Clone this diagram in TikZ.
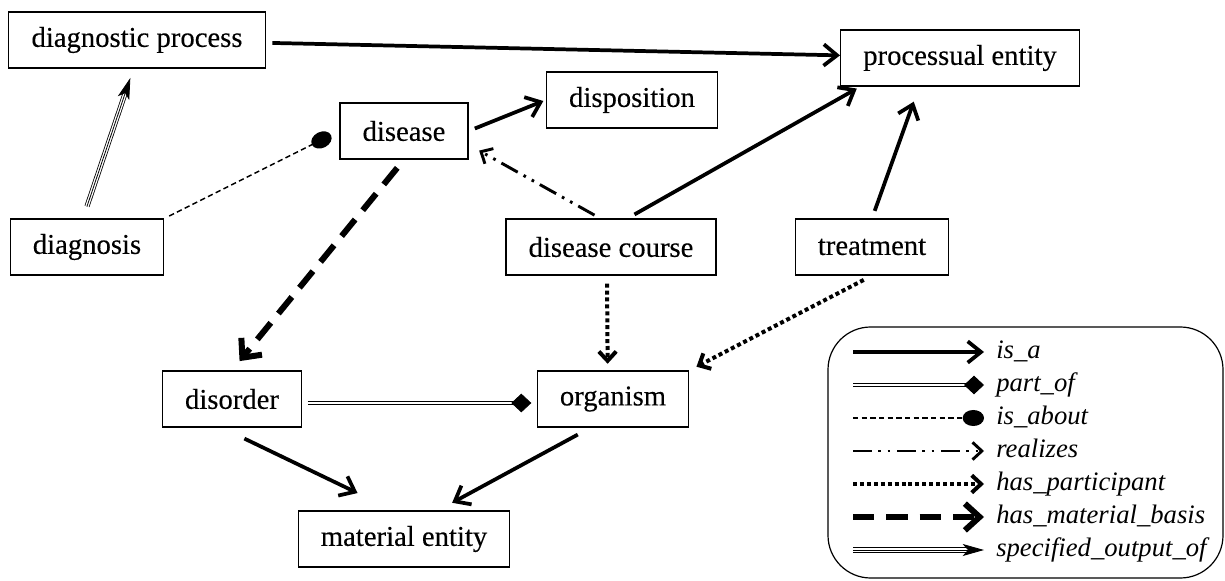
\documentclass[tikz,border=0pt]{standalone}
\usepackage{fontspec}
\setmainfont{Liberation Serif}
\newfontfamily\boxfamily[FakeBold=0.3]{Liberation Serif}
\usetikzlibrary{arrows.meta}
\newcommand\labfont{\boxfamily\fontsize{21.5}{24}\selectfont}
\newcommand\legfont{\itshape\fontsize{20}{24}\selectfont}
\tikzset{
  box/.style={draw, line width=0.9pt, inner xsep=17pt, minimum height=42pt, font=\labfont},
  legtext/.style={anchor=west, inner sep=0pt, text height=14pt, text depth=4pt, font=\legfont},
  isa/.style={line width=2.8pt, -{Straight Barb[length=10pt,width=16pt]}},
  partof/.style={white, line width=1.6pt, -{Diamond[length=15pt,width=14pt,color=black,fill=black,line width=0.6pt]},
    preaction={draw=black, -, double=white, double distance=1.6pt, line width=0.8pt, shorten >=8pt}},
  isabout/.style={line width=1.1pt, dash pattern=on 4pt off 2.5pt, -{Ellipse[length=16pt,width=12pt]}},
  realizes/.style={line width=2.2pt, dash pattern=on 14pt off 5pt on 2pt off 5pt on 2pt off 5pt,
    -{Straight Barb[length=7pt,width=13pt]}},
  haspart/.style={line width=3pt, dash pattern=on 3pt off 2.2pt, -{Straight Barb[length=7pt,width=13pt]}},
  matbasis/.style={line width=4.5pt, dash pattern=on 16pt off 9pt, -{Straight Barb[length=11pt,width=20pt]}},
  specout/.style={line width=0.6pt, -{Stealth[length=16pt,width=9pt,inset=4pt]},
    preaction={draw, -, double, double distance=2.6pt, shorten >=10pt}},
}
\begin{document}
\begin{tikzpicture}[x=0.75pt, y=-0.75pt]
    \useasboundingbox (0,0) rectangle (1225,581);

    % Classes
    \node[box] (dproc) at (137,40) {diagnostic process};
    \node[box] (pent) at (960,58) {processual entity};
    \node[box] (disease) at (404,131) {disease};
    \node[box] (dispo) at (632,100) {disposition};
    \node[box] (diagnosis) at (87,247) {diagnosis};
    \node[box] (dcourse) at (611,247) {disease course};
    \node[box] (treatment) at (872,247) {treatment};
    \node[box] (disorder) at (232,399) {disorder};
    \node[box] (organism) at (613,399) {organism};
    \node[box] (matent) at (404,539) {material entity};

    % Relations
    \draw[isa, shorten <=5pt] (dproc) -- (pent);
    \draw[specout] ([yshift=9pt]diagnosis.north) -- ([xshift=-5pt,yshift=-7pt]dproc.south);
    \draw[isabout, shorten <=4pt, shorten >=7pt] (diagnosis.north east) -- (disease.west);
    \draw[isa, shorten <=5pt, shorten >=2pt] (disease.east) -- (dispo.west);
    \draw[realizes, shorten <=5pt, shorten >=9pt] ([xshift=-8pt]dcourse.north) -- (disease.-12);
    \draw[isa, shorten <=6pt, shorten >=3pt] (dcourse.60) -- (pent.-164);
    \draw[isa, shorten <=6pt, shorten >=12pt] (treatment.north) -- (pent.-145);
    \draw[matbasis, shorten <=8pt, shorten >=9pt] (disease.south) -- (disorder.north);
    \draw[haspart, shorten <=6pt, shorten >=5pt] ([xshift=-3pt]dcourse.south) -- ([xshift=-4pt]organism.north);
    \draw[haspart, shorten <=7pt, shorten >=6pt] (treatment.south) -- (organism.north east);
    \draw[partof] ([xshift=4pt,yshift=-3pt]disorder.east) -- ([xshift=-4pt,yshift=-3pt]organism.west);
    \draw[isa, shorten <=19pt, shorten >=30pt] (disorder.-110) -- (matent.110);
    \draw[isa, shorten <=11pt, shorten >=12pt] (organism.-128) -- (matent.40);

    % Legend
    \draw[line width=0.9pt, rounded corners=32pt] (828,327) rectangle (1223,578);
    \foreach \sty/\lab [count=\i] in {isa/is\_a, partof/part\_of, isabout/is\_about, realizes/realizes,
        haspart/has\_participant, matbasis/has\_material\_basis, specout/specified\_output\_of} {
        \node[legtext] (leg\i) at (996,319+33*\i) {\lab};
        \coordinate (lstart\i) at (853,319+33*\i);
        \draw[\sty] (lstart\i) -- ([xshift=-9pt]leg\i.west);
    }
\end{tikzpicture}
\end{document}
